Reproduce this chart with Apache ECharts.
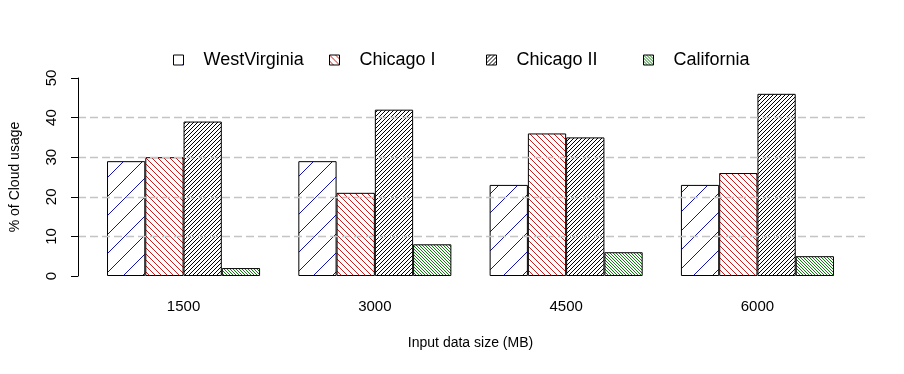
<!DOCTYPE html>
<html>
<head>
<meta charset="utf-8">
<script src="https://cdn.jsdelivr.net/npm/echarts@6/dist/echarts.min.js"></script>
<style>
  html, body { margin: 0; padding: 0; background: #fff; }
  #chart { width: 904px; height: 374px; }
</style>
</head>
<body>
<div id="chart"></div>
<script>
const categories = ['1500', '3000', '4500', '6000'];
const seriesNames = ['WestVirginia', 'Chicago I', 'Chicago II', 'California'];
const westVirginia = [29, 29, 23, 23];
const chicagoI = [30, 21, 36, 26];
const chicagoII = [39, 42, 35, 46];
const california = [2, 8, 6, 5];
const yMin = 0, yMax = 50, yStep = 10;

function hatch(size, color, dir) {
  const c = document.createElement('canvas');
  c.width = size; c.height = size;
  const ctx = c.getContext('2d');
  ctx.fillStyle = '#ffffff';
  ctx.fillRect(0, 0, size, size);
  ctx.fillStyle = color;
  for (let i = 0; i < size; i++) {
    const y = dir === 'up' ? size - 1 - i : i;
    ctx.fillRect(i, y, 1, 1);
  }
  return { image: c, repeat: 'repeat' };
}

const patterns = [
  hatch(19, '#1010c0', 'up'),
  hatch(6, '#d01818', 'down'),
  hatch(4, '#000000', 'up'),
  hatch(3, '#108010', 'down')
];
const values = [westVirginia, chicagoI, chicagoII, california];

const font = "'Liberation Sans', Arial, sans-serif";
const chart = echarts.init(document.getElementById('chart'));

const legendLefts = [173, 329, 486, 643];
const legends = seriesNames.map((n, i) => ({
  data: [n],
  left: legendLefts[i],
  top: 51,
  padding: 0,
  itemWidth: 10,
  itemHeight: 10,
  icon: 'rect',
  selectedMode: false,
  itemStyle: { borderWidth: 1, borderColor: '#000' },
  textStyle: { fontSize: 18, fontFamily: font, color: '#000', padding: [0, 0, 0, 15] }
}));

chart.setOption({
  animation: false,
  backgroundColor: '#ffffff',
  legend: legends,
  grid: [
    { left: 78, right: 39, top: 78, bottom: 98 },
    { left: 87.9, right: 50.9, top: 78, bottom: 98 }
  ],
  xAxis: [
    { type: 'value', gridIndex: 0, show: false, min: 0, max: 1 },
    {
      type: 'category', gridIndex: 1, data: categories,
      axisLine: { show: false }, axisTick: { show: false },
      axisLabel: { margin: 23, fontSize: 15, fontFamily: font, color: '#000' },
      name: 'Input data size (MB)', nameLocation: 'middle', nameGap: 60,
      nameTextStyle: { fontSize: 14, fontFamily: font, color: '#000' }
    }
  ],
  yAxis: [
    {
      type: 'value', gridIndex: 0, min: yMin, max: yMax, interval: yStep, z: 10,
      axisLine: { show: true, lineStyle: { color: '#000', width: 1 } },
      axisTick: { show: true, length: 7, lineStyle: { color: '#000', width: 1 } },
      axisLabel: { rotate: 90, margin: 19, fontSize: 15, fontFamily: font, color: '#000' },
      splitLine: { show: true, showMinLine: false, showMaxLine: false,
        lineStyle: { color: '#c4c4c4', width: 1.3, type: [8, 4] } },
      name: '% of Cloud usage', nameLocation: 'middle', nameGap: 56, nameRotate: 90,
      nameTextStyle: { fontSize: 14, fontFamily: font, color: '#000' }
    },
    { type: 'value', gridIndex: 1, min: yMin, max: yMax, show: false, splitLine: { show: false } }
  ],
  series: seriesNames.map((n, i) => ({
    name: n,
    type: 'bar',
    xAxisIndex: 1,
    yAxisIndex: 1,
    data: values[i],
    barWidth: 38.26,
    barGap: '0%',
    itemStyle: { color: patterns[i], borderColor: '#000', borderWidth: 1 }
  }))
});
</script>
</body>
</html>
